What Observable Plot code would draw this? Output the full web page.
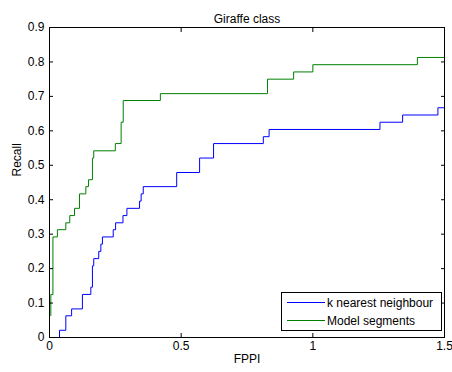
<!DOCTYPE html>
<html>
<head>
<meta charset="utf-8">
<script src="https://cdn.jsdelivr.net/npm/d3@7"></script>
<script src="https://cdn.jsdelivr.net/npm/@observablehq/plot@0.6"></script>
<style>
  html, body { margin: 0; padding: 0; background: #ffffff; }
  #chart { width: 452px; height: 372px; }
</style>
</head>
<body>
<div id="chart"></div>
<script>
// ---- Data ----
const title = "Giraffe class";
const xLabel = "FPPI";
const yLabel = "Recall";
const seriesNames = ["k nearest neighbour", "Model segments"];
const seriesColors = ["#0000ff", "#008000"];

const xTicks = [0, 0.5, 1, 1.5];
const yTicks = [0, 0.1, 0.2, 0.3, 0.4, 0.5, 0.6, 0.7, 0.8, 0.9];

// k nearest neighbour (step curve)
const knnFppi = [0.038, 0.038, 0.062, 0.084, 0.125, 0.157, 0.163, 0.168, 0.187, 0.195, 0.201, 0.242, 0.251, 0.279, 0.294, 0.342, 0.348, 0.356, 0.483, 0.570, 0.623, 0.812, 0.834, 1.255, 1.341, 1.475, 1.5];
const knnRecall = [0, 0.021, 0.063, 0.083, 0.125, 0.146, 0.208, 0.229, 0.250, 0.271, 0.292, 0.313, 0.333, 0.354, 0.375, 0.396, 0.417, 0.438, 0.479, 0.521, 0.563, 0.583, 0.604, 0.625, 0.646, 0.667, 0.667];

// Model segments (step curve)
const segFppi = [0.005, 0.005, 0.013, 0.030, 0.062, 0.077, 0.095, 0.114, 0.138, 0.148, 0.163, 0.168, 0.250, 0.272, 0.280, 0.421, 0.828, 0.927, 1.000, 1.397, 1.5];
const segRecall = [0.063, 0.125, 0.292, 0.313, 0.333, 0.354, 0.375, 0.417, 0.438, 0.458, 0.521, 0.542, 0.563, 0.625, 0.688, 0.708, 0.750, 0.771, 0.792, 0.813, 0.813];

const knn = knnFppi.map((x, i) => ({x, y: knnRecall[i]}));
const seg = segFppi.map((x, i) => ({x, y: segRecall[i]}));

const fmt = d3.format("~g");
const FONT = "'Liberation Sans', Arial, sans-serif";
const FS = 12;

const chart = Plot.plot({
  width: 452,
  height: 372,
  marginLeft: 49,
  marginRight: 8,
  marginTop: 27,
  marginBottom: 35,
  style: {fontFamily: FONT, fontSize: FS + "px", background: "#ffffff", color: "#000000"},
  x: {domain: [0, 1.5]},
  y: {domain: [0, 0.9]},
  marks: [
    Plot.line(knn, {x: "x", y: "y", curve: "step-after", stroke: seriesColors[0], strokeWidth: 1}),
    Plot.line(seg, {x: "x", y: "y", curve: "step-after", stroke: seriesColors[1], strokeWidth: 1}),
    Plot.frame({stroke: "#000000", strokeWidth: 1}),
    Plot.axisX({anchor: "bottom", ticks: xTicks, tickSize: -4, tickPadding: 8, tickFormat: fmt, label: null, stroke: "#000000", fill: "#000000", fontSize: FS}),
    Plot.axisX({anchor: "top", ticks: xTicks, tickSize: -4, fill: "none", label: null, stroke: "#000000"}),
    Plot.axisY({anchor: "left", ticks: yTicks, tickSize: -4, tickPadding: 9, tickFormat: fmt, label: null, stroke: "#000000", fill: "#000000", fontSize: FS}),
    Plot.axisY({anchor: "right", ticks: yTicks, tickSize: -4, fill: "none", label: null, stroke: "#000000"}),
    Plot.text([title], {frameAnchor: "top", dy: -13, fill: "#000000", fontSize: FS}),
    Plot.text([xLabel], {frameAnchor: "bottom", dy: 25, fill: "#000000", fontSize: FS}),
    Plot.text([yLabel], {frameAnchor: "left", dx: -32, dy: -6, rotate: -90, fill: "#000000", fontSize: FS})
  ]
});

document.getElementById("chart").appendChild(chart);

// ---- Legend box (inside the plot area, lower right) ----
const svg = d3.select(chart);
const lg = svg.append("g").attr("font-family", FONT).attr("font-size", FS).attr("text-anchor", "start");
lg.append("rect")
  .attr("x", 281.5).attr("y", 292.5).attr("width", 160).attr("height", 38)
  .attr("fill", "#ffffff").attr("stroke", "#000000").attr("stroke-width", 1);
seriesNames.forEach((name, i) => {
  const cy = 302.5 + i * 18;
  lg.append("line")
    .attr("x1", 287).attr("x2", 325).attr("y1", cy).attr("y2", cy)
    .attr("stroke", seriesColors[i]).attr("stroke-width", 1);
  lg.append("text")
    .attr("x", 327).attr("y", cy + 4)
    .attr("text-anchor", "start")
    .attr("fill", "#000000")
    .text(name);
});
</script>
</body>
</html>
